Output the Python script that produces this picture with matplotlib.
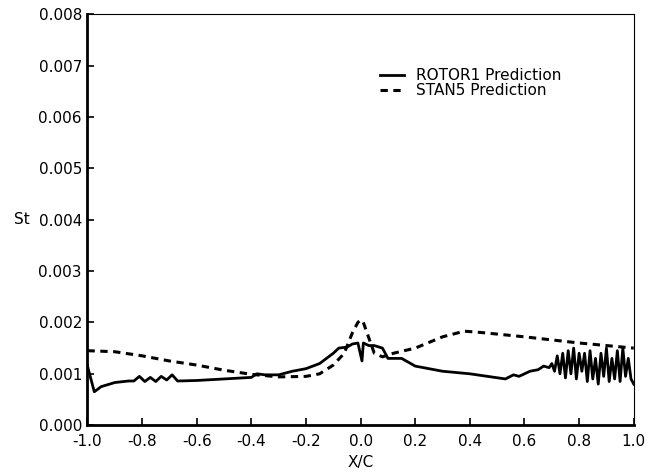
import matplotlib
matplotlib.use("Agg")
import matplotlib.pyplot as plt

# ROTOR1 prediction (solid line)
rotor_x = [-1.0, -0.975, -0.95, -0.9, -0.85, -0.83, -0.81, -0.79, -0.77, -0.75,
           -0.73, -0.71, -0.69, -0.67, -0.6, -0.5, -0.4, -0.38, -0.35, -0.3,
           -0.25, -0.2, -0.15, -0.1, -0.08, -0.05, -0.03, -0.01, 0.005, 0.01,
           0.03, 0.05, 0.08, 0.1, 0.15, 0.2, 0.3, 0.4, 0.53, 0.56,
           0.58, 0.6, 0.62, 0.65, 0.67, 0.69,
           0.70, 0.71, 0.72, 0.73, 0.74, 0.75, 0.76, 0.77, 0.78, 0.79,
           0.80, 0.81, 0.82, 0.83, 0.84, 0.85, 0.86, 0.87, 0.88, 0.89,
           0.90, 0.91, 0.92, 0.93, 0.94, 0.95, 0.96, 0.97, 0.98, 0.99, 1.0]
rotor_st = [0.00115, 0.00065, 0.00075, 0.00083, 0.00086, 0.00086, 0.00095, 0.00085, 0.00093, 0.00085,
            0.00095, 0.00088, 0.00098, 0.00086, 0.00087, 0.0009, 0.00093, 0.001, 0.00098, 0.00098,
            0.00105, 0.0011, 0.0012, 0.0014, 0.0015, 0.00152, 0.00158, 0.0016, 0.00125, 0.0016,
            0.00155, 0.00155, 0.0015, 0.0013, 0.0013, 0.00115, 0.00105, 0.001, 0.0009, 0.00098,
            0.00095, 0.001, 0.00105, 0.00108, 0.00115, 0.00112,
            0.0012, 0.00105, 0.00135, 0.001, 0.0014, 0.00092, 0.00145, 0.001, 0.0015, 0.0009,
            0.0014, 0.00105, 0.0014, 0.00085, 0.00145, 0.0009, 0.0013, 0.0008, 0.0014, 0.00095,
            0.0015, 0.00085, 0.0013, 0.0009, 0.00145, 0.00085, 0.0015, 0.00095, 0.0013, 0.0009, 0.0008]

# STAN5 prediction (dashed line)
stan_x = [-1.0, -0.9, -0.8, -0.7, -0.6, -0.5, -0.4, -0.3, -0.2, -0.15, -0.1, -0.06,
          -0.03, -0.01, 0.0, 0.01, 0.03, 0.05, 0.08, 0.12, 0.2, 0.3, 0.38, 0.45,
          0.6, 0.8, 1.0]
stan_st = [0.00145, 0.00143, 0.00135, 0.00125, 0.00117, 0.00107, 0.00099, 0.00094, 0.00095, 0.001, 0.00117, 0.0014,
           0.0018, 0.002, 0.00205, 0.002, 0.0017, 0.0014, 0.00133, 0.0014, 0.0015, 0.00172, 0.00183, 0.0018,
           0.00172, 0.0016, 0.0015]

x_ticks = [-1.0, -0.8, -0.6, -0.4, -0.2, 0.0, 0.2, 0.4, 0.6, 0.8, 1.0]
y_ticks = [0.000, 0.001, 0.002, 0.003, 0.004, 0.005, 0.006, 0.007, 0.008]

plt.rcParams["font.family"] = ["DejaVu Sans"]
plt.rcParams["axes.unicode_minus"] = False

fig = plt.figure(figsize=(6.48, 4.74), dpi=100)
ax = fig.add_axes([0.135, 0.103, 0.843, 0.867])

ax.plot(rotor_x, rotor_st, color="black", lw=2.0, label="ROTOR1 Prediction")
ax.plot(stan_x, stan_st, color="black", lw=2.2, dashes=(2.4, 1.8), label="STAN5 Prediction")

ax.set_xlim(-1.0, 1.0)
ax.set_ylim(0.0, 0.008)
ax.set_xticks(x_ticks)
ax.set_xticklabels([f"{t:.1f}" for t in x_ticks])
ax.set_yticks(y_ticks)
ax.set_yticklabels([f"{t:.3f}" for t in y_ticks])
ax.tick_params(direction="in", length=5, width=1.2, labelsize=11)
ax.tick_params(axis="x", pad=6)
ax.tick_params(axis="y", pad=4)

ax.spines["left"].set_linewidth(2.0)
ax.spines["bottom"].set_linewidth(2.0)
ax.spines["top"].set_linewidth(0.8)
ax.spines["right"].set_linewidth(0.8)

ax.set_xlabel("X/C", fontsize=11, labelpad=5)
ax.set_ylabel("St", fontsize=11, rotation=0, labelpad=12, va="center")

ax.legend(loc="upper left", bbox_to_anchor=(0.535, 0.868), frameon=False, fontsize=11,
          handlelength=1.6, handletextpad=0.8, labelspacing=0.0, borderpad=0,
          borderaxespad=0)

fig.savefig("out.png", dpi=100)
